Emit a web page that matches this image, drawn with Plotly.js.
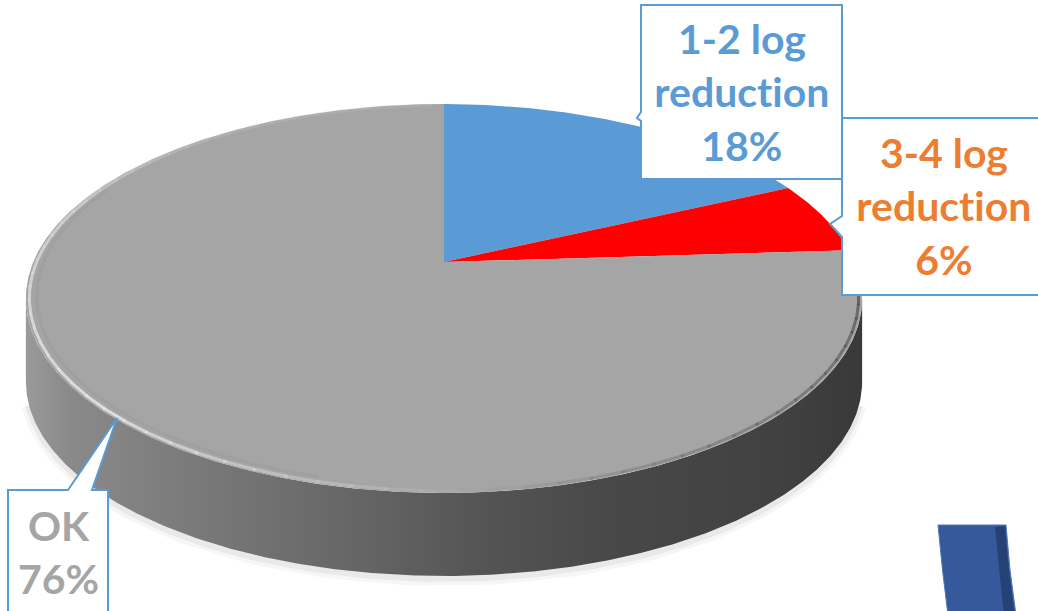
<!DOCTYPE html>
<html>
<head>
<meta charset="utf-8">
<script src="https://cdn.plot.ly/plotly-3.0.1.min.js"></script>
<style>
  html, body { margin: 0; padding: 0; background: #ffffff; }
  #chart { width: 1038px; height: 611px; }
  #chart text { font-variant-ligatures: none; font-feature-settings: "liga" 0, "clig" 0; }
</style>
</head>
<body>
<div id="chart"></div>
<script>
// Share of samples by log-reduction result
const categories = ['1-2 log reduction', '3-4 log reduction', 'OK'];
const values = [18, 6, 76];

// Styling per slice
const sliceColors = ['#5b9bd5', '#ff0000', '#a5a5a5'];
const labelColors = ['#5b9bd5', '#ed7d31', '#a5a5a5'];

// Tilted-disc geometry (perspective view of a flat cylinder)
const CX = 444, CY = 262;      // pie centre on screen
const A = 410.7, B = 187.6;    // horizontal / depth radii
const K = 0.1877;              // perspective strength
const DEPTH = 83;              // visible thickness of the disc

function proj(deg, r) {
  r = (r === undefined) ? 1 : r;
  const t = deg * Math.PI / 180;
  const u = r * Math.sin(t), v = -r * Math.cos(t);
  const s = 1 / (1 - K * v);
  return [CX + A * u * s, CY + B * v * s];
}

function arc(d0, d1, r, dy) {
  const xs = [], ys = [];
  const n = Math.max(8, Math.ceil(Math.abs(d1 - d0) / 0.5));
  for (let i = 0; i <= n; i++) {
    const p = proj(d0 + (d1 - d0) * i / n, r);
    xs.push(p[0]); ys.push(p[1] + (dy || 0));
  }
  return [xs, ys];
}

const traces = [];
const total = values.reduce((a, b) => a + b, 0);

// silhouette angles of the front wall
const thR = Math.acos(-K) * 180 / Math.PI;
const thL = 360 - thR;

// soft floor shadow under the wall
const shadowArc = arc(thR + 6, thL - 6, 1.0, DEPTH + 3);
traces.push({ x: shadowArc[0], y: shadowArc[1], mode: 'lines', hoverinfo: 'skip',
  line: { color: 'rgba(0,0,0,0.035)', width: 14 } });
traces.push({ x: shadowArc[0], y: shadowArc[1], mode: 'lines', hoverinfo: 'skip',
  line: { color: 'rgba(0,0,0,0.05)', width: 6 } });

// front wall of the disc
const wallTop = arc(thR, thL, 1, 0);
const wallBottom = arc(thL, thR, 1, DEPTH);
traces.push({
  x: wallTop[0].concat(wallBottom[0]), y: wallTop[1].concat(wallBottom[1]),
  mode: 'lines', fill: 'toself', hoverinfo: 'skip',
  line: { width: 0, color: 'rgba(0,0,0,0)' },
  fillcolor: '#5a5a5a',
  fillgradient: {
    type: 'horizontal',
    colorscale: [[0, '#9a9a9a'], [0.05, '#8a8a8a'], [0.2, '#7a7a7a'], [0.4, '#656565'],
                 [0.55, '#545454'], [0.7, '#484848'], [0.9, '#414141'], [1, '#393939']]
  }
});

// top face slices, clockwise from 12 o'clock
let start = 0;
values.forEach((v, i) => {
  const span = v / total * 360;
  const a = arc(start, start + span, 1, 0);
  traces.push({
    x: [CX].concat(a[0], [CX]), y: [CY].concat(a[1], [CY]),
    mode: 'lines', fill: 'toself', fillcolor: sliceColors[i],
    line: { width: 0, color: sliceColors[i] },
    name: categories[i], hoverinfo: 'name'
  });
  start += span;
});

// bevelled rim on the grey face: highlight at front-left, shade at front-right
function rimColor(deg) {
  const stops = [[100, [60, 60, 60, 0.6]], [150, [90, 90, 90, 0.35]], [190, [200, 200, 200, 0.45]],
                 [225, [228, 228, 228, 0.9]], [285, [215, 215, 215, 0.75]], [320, [190, 190, 190, 0.4]],
                 [360, [185, 185, 185, 0.25]]];
  for (let j = 0; j < stops.length - 1; j++) {
    const [d0, c0] = stops[j], [d1, c1] = stops[j + 1];
    if (deg >= d0 && deg <= d1) {
      const f = (deg - d0) / (d1 - d0);
      const c = c0.map((x, k) => x + (c1[k] - x) * f);
      return 'rgba(' + Math.round(c[0]) + ',' + Math.round(c[1]) + ',' + Math.round(c[2]) + ',' + c[3].toFixed(2) + ')';
    }
  }
  return 'rgba(185,185,185,0.25)';
}
const rimStart = 360 * (values[0] + values[1]) / total + 12;
for (let d = rimStart; d < 358; d += 4) {
  const seg = arc(d, Math.min(d + 4.5, 358), 0.992, 0);
  traces.push({ x: seg[0], y: seg[1], mode: 'lines', hoverinfo: 'skip',
    line: { color: rimColor(d + 2), width: 3 } });
}
// faint shaded lip just inside the highlight
const lip = arc(195, 295, 0.975, 0);
traces.push({ x: lip[0], y: lip[1], mode: 'lines', hoverinfo: 'skip',
  line: { color: 'rgba(140,140,140,0.2)', width: 3 } });

// call-out labels
function labelText(i) {
  const pct = Math.round(values[i] / total * 100);
  return '<b>' + categories[i].replace(' reduction', '<br>reduction') + '<br>' + pct + '%</b>';
}

const boxLine = { color: '#5b9bd5', width: 2 };
const shapes = [
  // decorative slide ribbon, bottom right
  { type: 'path', xref: 'x', yref: 'y', layer: 'above',
    path: 'M 938 525 L 1006 525 Q 1009 570 1016 615 L 948 615 Q 942 570 938 525 Z',
    fillcolor: '#35599a', line: { color: '#5676b0', width: 1 } },
  { type: 'path', xref: 'x', yref: 'y', layer: 'above',
    path: 'M 995 527 L 1005 526 Q 1008 570 1015 615 L 1004 615 Q 999 570 995 527 Z',
    fillcolor: 'rgba(20,35,70,0.45)', line: { width: 0 } },
  // 3-4 log reduction box
  { type: 'path', xref: 'x', yref: 'y', layer: 'above',
    path: 'M 842 118 L 1045 118 L 1045 295 L 842 295 L 842 237 L 830 224 L 842 216 Z',
    fillcolor: '#ffffff', line: boxLine },
  // 1-2 log reduction box
  { type: 'path', xref: 'x', yref: 'y', layer: 'above',
    path: 'M 641 5 L 842 5 L 842 179 L 641 179 L 641 121 L 637 118 L 641 112 Z',
    fillcolor: '#ffffff', line: boxLine },
  // OK box
  { type: 'path', xref: 'x', yref: 'y', layer: 'above',
    path: 'M 8 490 L 68 490 L 117 418 L 92 490 L 108 490 L 108 620 L 8 620 Z',
    fillcolor: '#ffffff', line: boxLine }
];

const labelPos = [[742, 92], [944, 206], [58, 552]];
const annotations = values.map((v, i) => ({
  xref: 'x', yref: 'y', x: labelPos[i][0], y: labelPos[i][1],
  text: labelText(i), showarrow: false, align: 'center',
  xanchor: 'center', yanchor: 'middle',
  font: { family: 'Lato, "Open Sans", sans-serif', size: 41, color: labelColors[i] }
}));

const layout = {
  width: 1038, height: 611,
  margin: { l: 0, r: 0, t: 0, b: 0 },
  paper_bgcolor: '#ffffff', plot_bgcolor: '#ffffff',
  showlegend: false,
  xaxis: { range: [0, 1038], visible: false, fixedrange: true },
  yaxis: { range: [611, 0], visible: false, fixedrange: true },
  shapes: shapes,
  annotations: annotations
};

Plotly.newPlot('chart', traces, layout, { staticPlot: true, displayModeBar: false });
</script>
</body>
</html>
